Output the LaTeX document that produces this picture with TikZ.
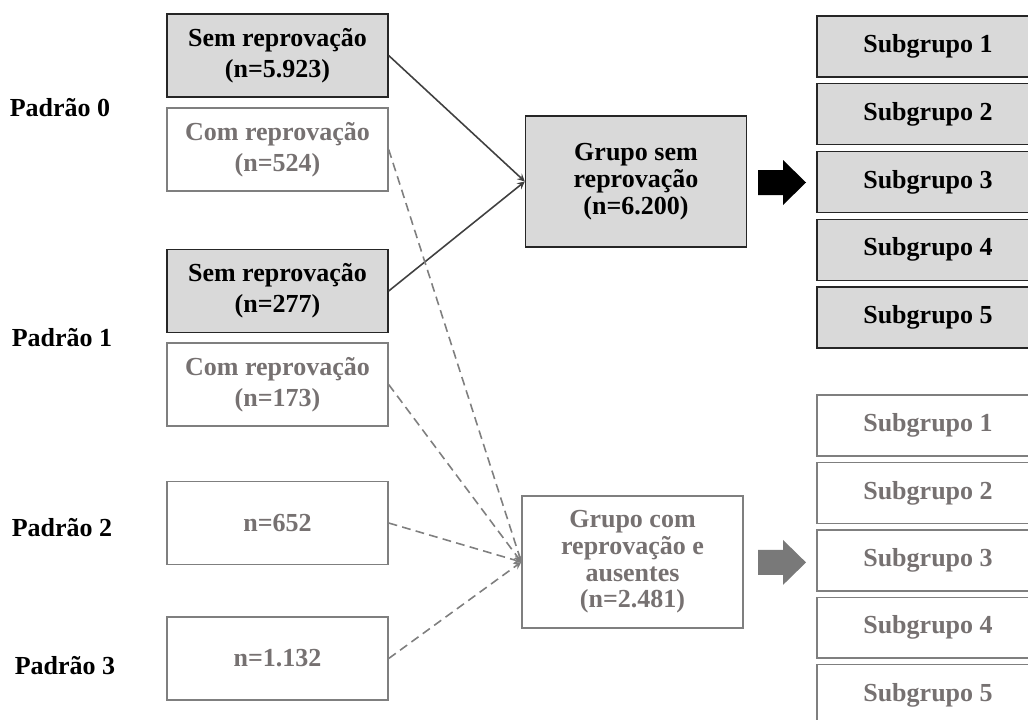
\documentclass[tikz,border=0pt]{standalone}
\usepackage{fontspec}
\setmainfont{Liberation Serif}
\usetikzlibrary{arrows.meta}
\tikzset{>=stealth}
\definecolor{boxgray}{HTML}{D9D9D9}
\definecolor{txtgray}{HTML}{767171}
\definecolor{linegray}{HTML}{7F7F7F}
\definecolor{linedark}{HTML}{404040}
\tikzset{
  base/.style={align=center, inner sep=0pt,
    font=\bfseries\fontsize{14.8}{17.5}\selectfont},
  leftbox/.style={base, draw, line width=0.8pt, minimum width=4.42cm, minimum height=1.66cm},
  sembox/.style={leftbox, fill=boxgray, draw=black!85},
  combox/.style={leftbox, draw=linegray, text=txtgray},
  grupo/.style={base, line width=0.8pt, minimum width=4.42cm,
    font=\bfseries\fontsize{14.8}{15.2}\selectfont},
  subbox/.style={base, line width=0.8pt, minimum width=4.44cm, minimum height=1.22cm},
  padrao/.style={base},
  solidarr/.style={->, draw=linedark, line width=0.9pt},
  dasharr/.style={->, draw=linegray, line width=0.9pt, dash pattern=on 5pt off 3pt}
}
\begin{document}
\begin{tikzpicture}[x=0.02cm,y=-0.02cm]
\useasboundingbox (0,0) rectangle (1028,720);

% padroes
\node[padrao] (pad0) at (60,108) {Padrão 0};
\node[padrao] (pad1) at (62,338) {Padrão 1};
\node[padrao] (pad2) at (62,528) {Padrão 2};
\node[padrao] (pad3) at (65,666) {Padrão 3};

% caixas da esquerda
\node[sembox] (s0) at (277.5,55.5) {Sem reprovação\\(n=5.923)};
\node[combox] (c0) at (277.5,149.5) {Com reprovação\\(n=524)};
\node[sembox] (s1) at (277.5,291) {Sem reprovação\\(n=277)};
\node[combox] (c1) at (277.5,384.5) {Com reprovação\\(n=173)};
\node[combox] (p2) at (277.5,523) {n=652};
\node[combox] (p3) at (277.5,658.5) {n=1.132};

% grupos
\node[grupo, draw=black!85, fill=boxgray, minimum height=2.62cm]
  (gsem) at (636,181.5) {Grupo sem\\reprovação\\(n=6.200)};
\node[grupo, draw=linegray, text=txtgray, minimum height=2.64cm]
  (gcom) at (632.5,562) {Grupo com\\reprovação e\\ausentes\\(n=2.481)};

% ligacoes
\draw[solidarr] (s0.east) -- (gsem.west);
\draw[solidarr] (s1.east) -- (gsem.west);
\draw[dasharr] (c0.east) -- (gcom.west);
\draw[dasharr] (c1.east) -- (gcom.west);
\draw[dasharr] (p2.east) -- (gcom.west);
\draw[dasharr] (p3.east) -- (gcom.west);

% setas largas
\begin{scope}[yshift=0cm]
\fill[black] (758,170) -- (783,170) -- (783,160) -- (806,182.5) --
             (783,205) -- (783,195) -- (758,195) -- cycle;
\end{scope}
\begin{scope}[yshift=-7.6cm]
\fill[linegray!95!black] (758,170) -- (783,170) -- (783,160) -- (806,182.5) --
             (783,205) -- (783,195) -- (758,195) -- cycle;
\end{scope}

% subgrupos
\foreach \i in {1,...,5}{
  \node[subbox, draw=black!85, fill=boxgray] (sa\i)
    at (928,{46.5+67.75*(\i-1)}) {Subgrupo \i};
  \node[subbox, draw=linegray, text=txtgray] (sb\i)
    at (928,{425.5+67.4*(\i-1)}) {Subgrupo \i};
}
\end{tikzpicture}
\end{document}
